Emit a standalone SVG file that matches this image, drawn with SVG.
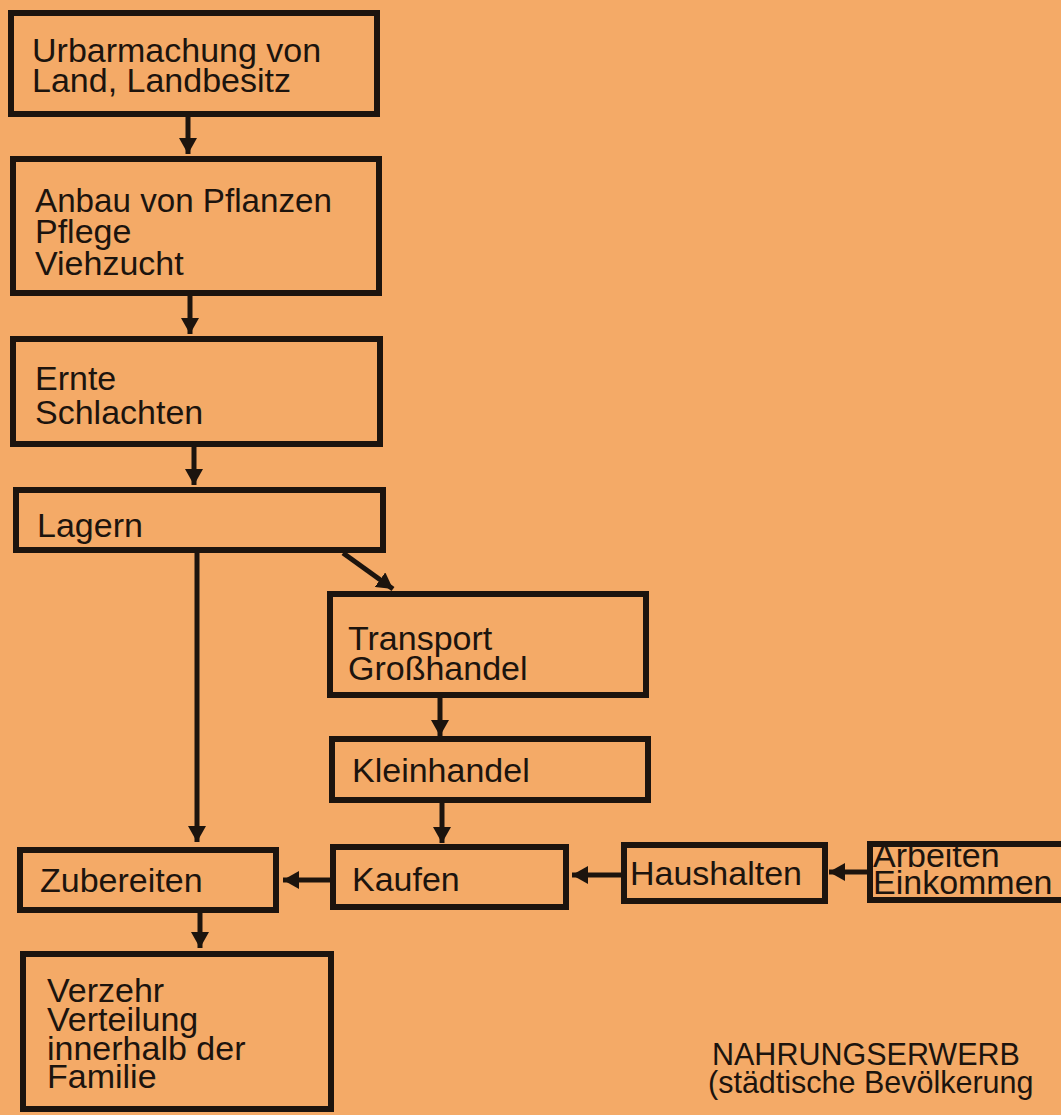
<svg xmlns="http://www.w3.org/2000/svg" width="1061" height="1115" viewBox="0 0 1061 1115">
<style>
.box{fill:none;stroke:#1c140e;stroke-width:6}
.t{font-family:"Liberation Sans",Arial,sans-serif;font-size:34px;fill:#1c140e}
.c{stroke:#1c140e;stroke-width:5;fill:none}
.title{font-family:"Liberation Sans",Arial,sans-serif;font-size:30.5px;fill:#1c140e}
</style>
<defs>
<marker id="ah" viewBox="0 0 16 18" refX="16" refY="9" markerWidth="16" markerHeight="18" markerUnits="userSpaceOnUse" orient="auto">
<path d="M0,0 L16,9 L0,18 z" fill="#1c140e"/>
</marker>
</defs>
<rect width="1061" height="1115" fill="#F4AA67"/>
<g id="connectors">
<path class="c" marker-end="url(#ah)" d="M188,117 V154"/>
<path class="c" marker-end="url(#ah)" d="M190,296 V334"/>
<path class="c" marker-end="url(#ah)" d="M194,447 V485"/>
<path class="c" marker-end="url(#ah)" d="M343,553 L393,589"/>
<path class="c" marker-end="url(#ah)" d="M197,553 V842"/>
<path class="c" marker-end="url(#ah)" d="M440,698 V736"/>
<path class="c" marker-end="url(#ah)" d="M442,803 V843"/>
<path class="c" marker-end="url(#ah)" d="M330,880 H283"/>
<path class="c" marker-end="url(#ah)" d="M200,913 V948"/>
<path class="c" marker-end="url(#ah)" d="M621,875 H572"/>
<path class="c" marker-end="url(#ah)" d="M867,872 H829"/>
</g>
<g id="n1"><rect class="box" x="11" y="13" width="366" height="101"/>
<text class="t" x="32" y="62">Urbarmachung von</text><text class="t" x="32" y="92">Land, Landbesitz</text></g>
<g id="n2"><rect class="box" x="13" y="159" width="366" height="134"/>
<text class="t" x="35" y="212" textLength="297" lengthAdjust="spacingAndGlyphs">Anbau von Pflanzen</text><text class="t" x="35" y="243">Pflege</text><text class="t" x="35" y="275">Viehzucht</text></g>
<g id="n3"><rect class="box" x="13" y="339" width="367" height="105"/>
<text class="t" x="35" y="390">Ernte</text><text class="t" x="35" y="424">Schlachten</text></g>
<g id="n4"><rect class="box" x="16" y="490" width="367" height="60"/>
<text class="t" x="37" y="537">Lagern</text></g>
<g id="n5"><rect class="box" x="330" y="594" width="316" height="101"/>
<text class="t" x="348" y="650">Transport</text><text class="t" x="348" y="680">Großhandel</text></g>
<g id="n6"><rect class="box" x="332" y="739" width="316" height="61"/>
<text class="t" x="352" y="782">Kleinhandel</text></g>
<g id="n7"><rect class="box" x="333" y="847" width="233" height="60"/>
<text class="t" x="352" y="891">Kaufen</text></g>
<g id="n8"><rect class="box" x="20" y="850" width="256" height="60"/>
<text class="t" x="40" y="892">Zubereiten</text></g>
<g id="n9"><rect class="box" x="23" y="954" width="308" height="155"/>
<text class="t" x="47" y="1002">Verzehr</text><text class="t" x="47" y="1031">Verteilung</text><text class="t" x="47" y="1060">innerhalb der</text><text class="t" x="47" y="1088">Familie</text></g>
<g id="n10"><rect class="box" x="624" y="845" width="201" height="56"/>
<text class="t" x="630" y="885">Haushalten</text></g>
<g id="n11"><rect class="box" x="870" y="844" width="200" height="56"/>
<text class="t" x="873" y="867">Arbeiten</text><text class="t" x="873" y="894">Einkommen</text></g>
<g id="title"><text class="title" x="712" y="1065">NAHRUNGSERWERB</text><text class="title" x="708" y="1093">(städtische Bevölkerung</text></g>
</svg>
